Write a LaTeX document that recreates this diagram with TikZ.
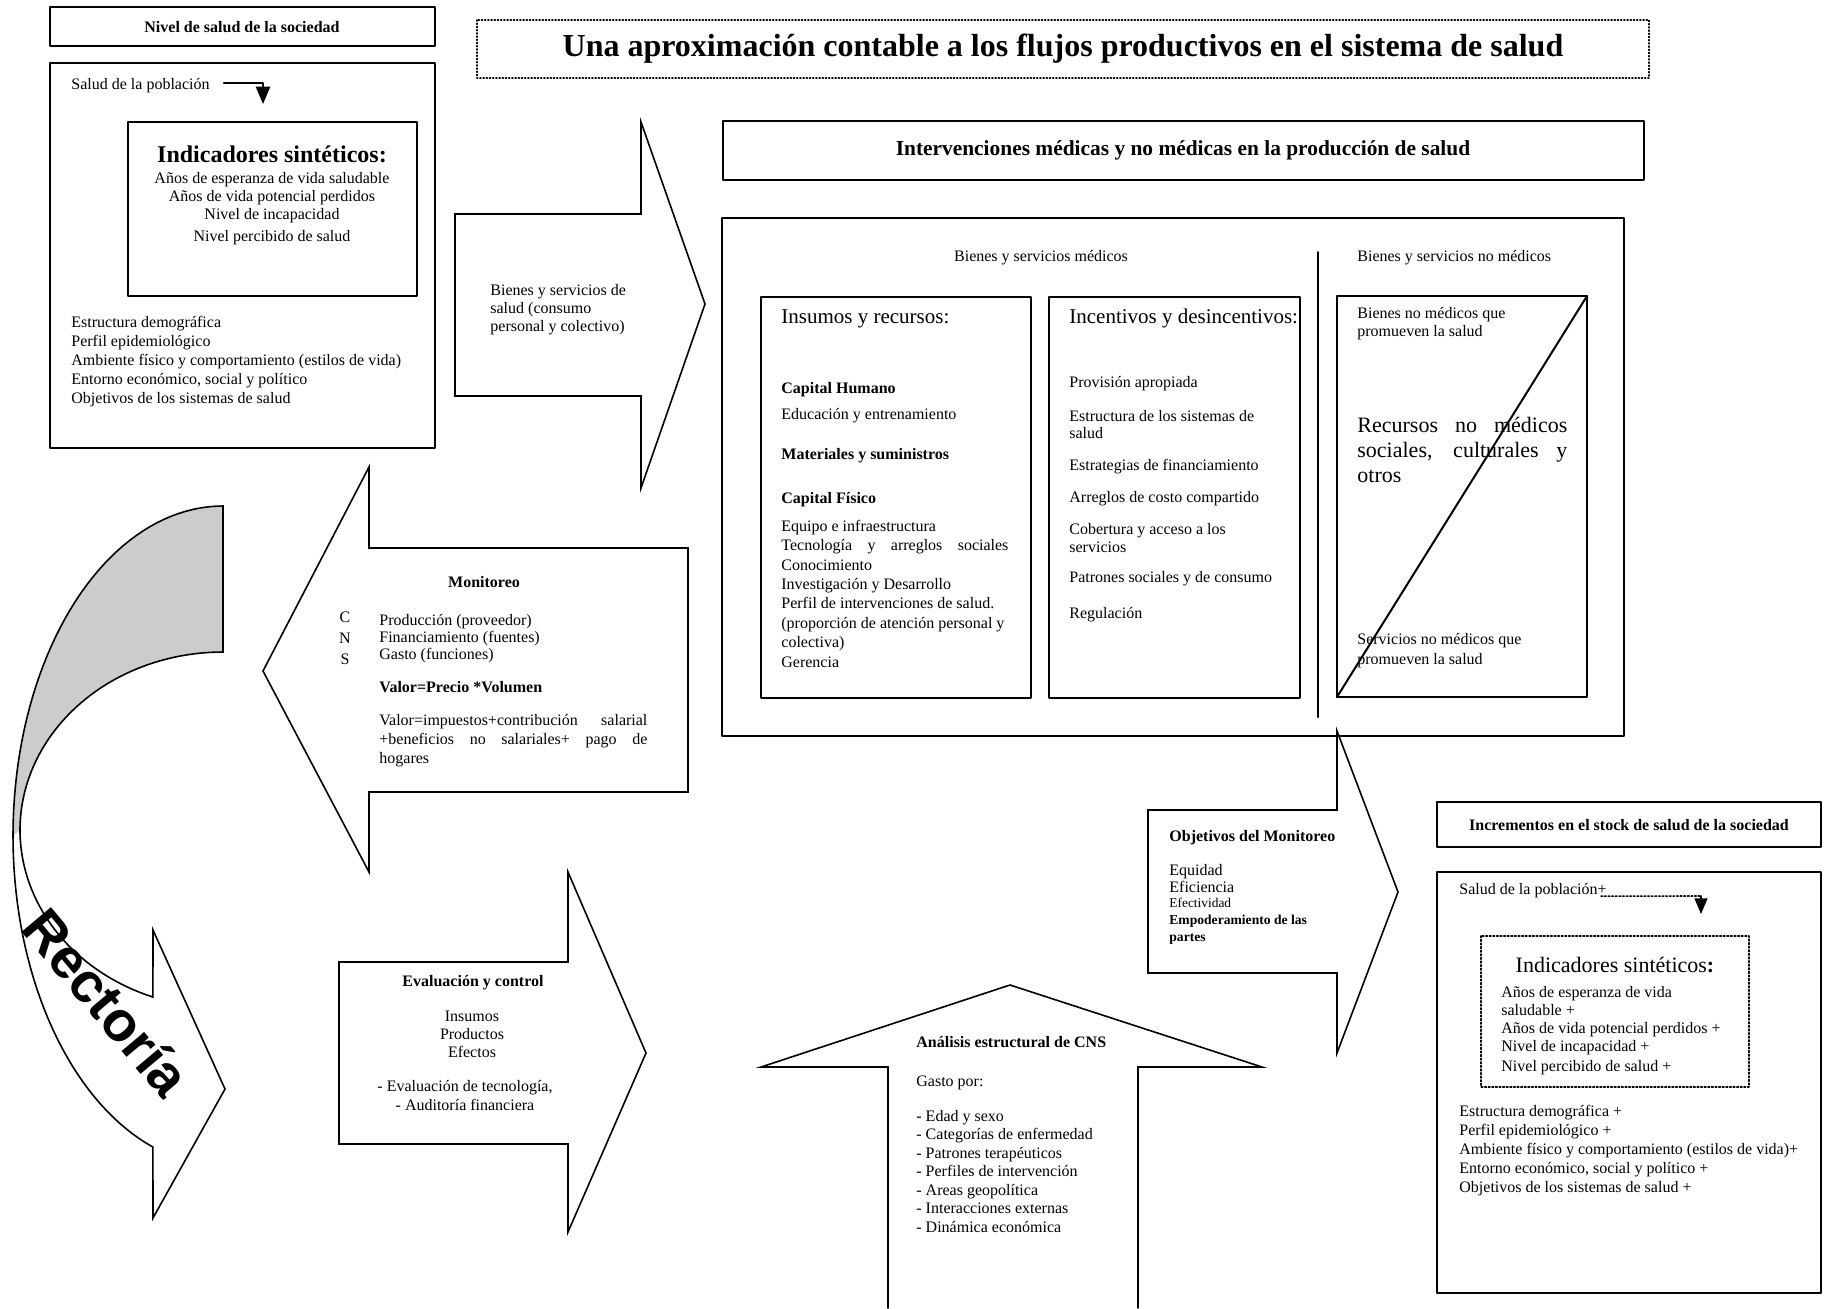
\documentclass[tikz,border=0pt]{standalone}
\usepackage{fontspec}
\setmainfont{Liberation Serif}
\newfontfamily\rectfont{Liberation Sans}
\usetikzlibrary{arrows}

% multi-line nodes are placed by the baseline of their last line
\tikzset{
  caja/.style={line width=1pt},
  bloque/.style={line width=0.8pt,line join=miter},
  txt/.style={inner sep=0pt,anchor=base west,align=left,font=\fontsize{8}{9.5}\selectfont},
  txtb/.style={txt,font=\fontsize{8}{9.5}\selectfont\bfseries},
  ctxt/.style={inner sep=0pt,anchor=base,align=center,font=\fontsize{8}{9.5}\selectfont},
  ctxtb/.style={ctxt,font=\fontsize{8}{9.5}\selectfont\bfseries}
}

\begin{document}
\begin{tikzpicture}[line cap=round,line join=round,>=triangle 45,x=0.5pt,y=-0.5pt]
\useasboundingbox (0,0) rectangle (1826,1308);

% nivel de salud (izquierda)
\draw[caja] (50,7) rectangle (435,46);
\node[ctxtb,anchor=center] (nivel) at (242,27) {Nivel de salud de la sociedad};
\draw[caja] (50,63) rectangle (435,448);
\node[txt] (pob) at (71,89) {Salud de la población};
\coordinate (indtop) at (263,104);
\draw[line width=1pt,->] ([xshift=7pt,yshift=1pt]pob.east) -| (indtop);
\draw[caja] (128,122) rectangle (417,296);
\node[ctxt,font=\fontsize{12}{14}\selectfont\bfseries] (ind) at (272,162) {Indicadores sintéticos:};
\node[ctxt,font=\fontsize{8}{8.8}\selectfont] (indl) at (272,241) {Años de esperanza de vida saludable\\Años de vida potencial perdidos\\Nivel de incapacidad\\[2.2pt]Nivel percibido de salud};
\node[txt,font=\fontsize{8}{9.4}\selectfont] (fact) at (71,403) {Estructura demográfica\\Perfil epidemiológico\\Ambiente físico y comportamiento (estilos de vida)\\Entorno económico, social y político\\Objetivos de los sistemas de salud};

% titulo
\draw[line width=0.6pt,densely dotted] (477,20) rectangle (1649,78);
\node[font=\fontsize{16}{18}\selectfont\bfseries] (titulo) at (1063,49) {Una aproximación contable a los flujos productivos en el sistema de salud};

% flecha bienes y servicios
\draw[bloque] (455,214) -- (641,214) -- (641,122) -- (705,304) -- (641,488) -- (641,396) -- (455,396) -- cycle;
\node[txt,font=\fontsize{8}{9}\selectfont] (bienes) at (490,331) {Bienes y servicios de\\salud (consumo\\personal y colectivo)};

% intervenciones
\draw[caja] (723,121) rectangle (1644,180);
\node[font=\fontsize{10.7}{12}\selectfont\bfseries] (interv) at (1183,150) {Intervenciones médicas y no médicas en la producción de salud};
\draw[caja] (722,218) rectangle (1624,736);
\draw[caja] (1318,252) -- (1318,717);
\node[ctxt] (medicos) at (1041,261) {Bienes y servicios médicos};
\node[txt] (nomedicos) at (1357,261) {Bienes y servicios no médicos};

\draw[caja] (761,297) rectangle (1031,698);
\node[txt,font=\fontsize{10.5}{12}\selectfont] (insumos) at (781,323) {Insumos y recursos:};
\node[txtb] (caphum) at (781,393) {Capital Humano};
\node[txt] (educ) at (781,419) {Educación y entrenamiento};
\node[txtb] (mater) at (781,459) {Materiales y suministros};
\node[txtb] (capfis) at (781,503) {Capital Físico};
\node[txt,font=\fontsize{8}{9.7}\selectfont] (equipo) at (781,667) {Equipo e infraestructura\\\makebox[113.5pt][s]{Tecnología y arreglos sociales}\\Conocimiento\\Investigación y Desarrollo\\Perfil de intervenciones de salud.\\(proporción de atención personal y\\colectiva)\\Gerencia};

\draw[caja] (1049,297) rectangle (1300,698);
\node[txt,font=\fontsize{10.5}{12}\selectfont] (incent) at (1069,323) {Incentivos y desincentivos:};
\node[txt,font=\fontsize{8}{8.5}\selectfont] (provis) at (1069,618) {Provisión apropiada\\[8.5pt]Estructura de los sistemas de\\salud\\[7.5pt]Estrategias de financiamiento\\[7.5pt]Arreglos de costo compartido\\[7.5pt]Cobertura y acceso a los\\[0.5pt]servicios\\[6.5pt]Patrones sociales y de consumo\\[9.5pt]Regulación};

\draw[caja] (1337,296) rectangle (1587,697);
\draw[caja] (1337,697) -- (1587,296);
\node[txt,font=\fontsize{8}{8.8}\selectfont] (bnm) at (1357,336) {Bienes no médicos que\\promueven la salud};
\node[txt,font=\fontsize{11}{12.5}\selectfont] (recursos) at (1357,482) {\makebox[105pt][s]{Recursos no médicos}\\\makebox[105pt][s]{sociales, culturales y}\\otros};
\node[txt,font=\fontsize{8}{10}\selectfont] (snm) at (1357,664) {Servicios no médicos que\\promueven la salud};

% monitoreo
\draw[bloque] (688,548) -- (369,548) -- (369,467) -- (263,671) -- (369,872) -- (369,792) -- (688,792) -- cycle;
\node[ctxtb] (monit) at (484,587) {Monitoreo};
\node[ctxt,font=\fontsize{8}{10.3}\selectfont] (cns) at (345,664) {C\\N\\S};
\node[txt,font=\fontsize{8}{8.3}\selectfont] (prod) at (379,659) {Producción (proveedor)\\Financiamiento (fuentes)\\Gasto (funciones)};
\node[txtb] (valor) at (379,692) {Valor=Precio *Volumen};
\node[txt,font=\fontsize{8}{9.3}\selectfont] (valor2) at (379,763) {\makebox[134pt][s]{Valor=impuestos+contribución salarial}\\\makebox[134pt][s]{+beneficios no salariales+ pago de}\\hogares};

% evaluacion
\draw[bloque] (339,962) -- (568,962) -- (568,872) -- (646,1053) -- (568,1232) -- (568,1144) -- (339,1144) -- cycle;
\node[ctxtb] (eval) at (473,986) {Evaluación y control};
\node[ctxt,font=\fontsize{8}{9}\selectfont] (evall) at (472,1057) {Insumos\\Productos\\Efectos};
\node[ctxt] (evall2) at (465,1110) {- Evaluación de tecnología,\\- Auditoría financiera};

% objetivos
\draw[bloque] (1148,810) -- (1337,810) -- (1337,731) -- (1398,892) -- (1337,1053) -- (1337,973) -- (1148,973) -- cycle;
\node[txtb] (objm) at (1169,841) {Objetivos del Monitoreo};
\node[txt,font=\fontsize{8}{8.5}\selectfont] (obj1) at (1169,892) {Equidad\\Eficiencia};
\node[txt,font=\fontsize{6.7}{7}\selectfont] (obj2) at (1169,907) {Efectividad};
\node[txt,font=\fontsize{6.8}{8.5}\selectfont\bfseries] (obj3) at (1169,941) {Empoderamiento de las\\partes};

% analisis
\draw[bloque] (888,1308) -- (888,1067) -- (761,1067) -- (1010,985) -- (1262,1067) -- (1138,1067) -- (1138,1308);
\node[txtb] (anal) at (916,1047) {Análisis estructural de CNS};
\node[txt,font=\fontsize{8}{9.25}\selectfont] (gasto) at (916,1232) {Gasto por:\\[8.2pt]- Edad y sexo\\- Categorías de enfermedad\\- Patrones terapéuticos\\- Perfiles de intervención\\- Areas geopolítica\\- Interacciones externas\\- Dinámica económica};

% incrementos (derecha)
\draw[caja] (1437,802) rectangle (1821,847);
\node[ctxtb,anchor=center] (incr) at (1629,825) {Incrementos en el stock de salud de la sociedad};
\draw[caja] (1437,872) rectangle (1821,1293);
\node[txt] (pob2) at (1459,894) {Salud de la población+};
\coordinate (codo2) at (1701,896);
\coordinate (ind2top) at (1701,914);
\draw[line width=0.8pt,densely dotted] ([xshift=-3pt,yshift=-3pt]pob2.east) -- (codo2);
\draw[line width=0.8pt,->] (codo2) -- (ind2top);
\draw[line width=0.8pt,densely dotted] (1481,936) rectangle (1749,1087);
\node[ctxt,font=\fontsize{11}{13}\selectfont] (ind2) at (1615,972) {Indicadores sintéticos\textbf{:}};
\node[txt,font=\fontsize{8}{9}\selectfont] (ind2l) at (1501,1071) {Años de esperanza de vida\\saludable +\\Años de vida potencial perdidos +\\Nivel de incapacidad +\\[1pt]Nivel percibido de salud +};
\node[txt,font=\fontsize{8}{9.4}\selectfont] (fact2) at (1459,1192) {Estructura demográfica +\\Perfil epidemiológico +\\Ambiente físico y comportamiento (estilos de vida)+\\Entorno económico, social y político +\\Objetivos de los sistemas de salud +};

% rectoria
\fill[gray!40] plot[domain=90:180,samples=40] ({223+210*cos(\x)},{836-330*sin(\x)})
  -- plot[domain=180:90,samples=40] ({223+203*cos(\x)},{830-178*sin(\x)}) -- cycle;
\draw[bloque] plot[domain=90:250.5,samples=80] ({223+210*cos(\x)},{836-330*sin(\x)})
  -- (153,1218) -- (225,1089) -- (153,930)
  -- plot[domain=249.8:90,samples=80] ({223+203*cos(\x)},{830-178*sin(\x)}) -- cycle;
\node[font=\rectfont\fontsize{28}{30}\selectfont\bfseries,rotate=-50] (rect) at (107,1002) {Rectoría};
\end{tikzpicture}
\end{document}
